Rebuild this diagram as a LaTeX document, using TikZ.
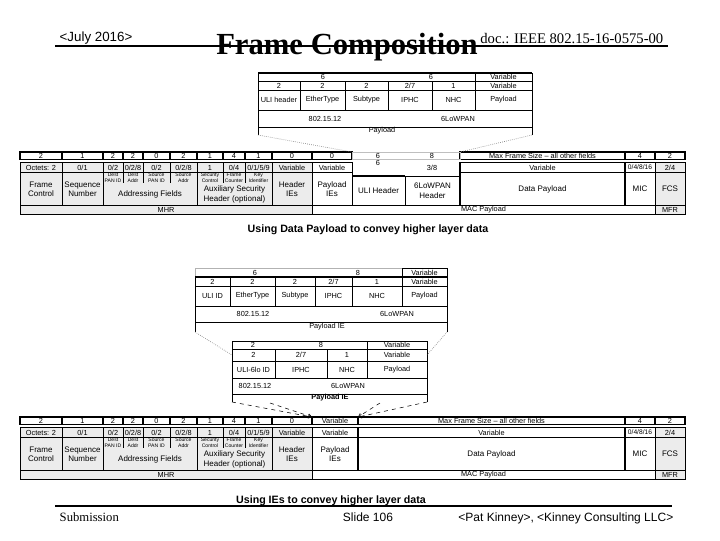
\documentclass[tikz,border=0pt]{standalone}
\usepackage{fontspec}
\setmainfont{Liberation Sans}
\newfontfamily\tnr{Liberation Serif}
\usetikzlibrary{arrows.meta,positioning,calc}

% one table cell: [style]{name}{x1}{y1}{x2}{y2}{text}, in pixels
\newcommand{\fcell}[7][]{%
  \node[cellbox,#1,minimum width={(#5-#3)*0.75pt},minimum height={(#6-#4)*0.75pt}]
    (#2) at ({(#3+#5)/2},{(#4+#6)/2}) {#7};}

\begin{document}
\begin{tikzpicture}[
  x=0.75pt, y=-0.75pt,
  cellbox/.style={
    draw, line width=0.4pt, inner sep=0pt, outer sep=0pt,
    align=center, font=\fontsize{5.5}{6.2}\selectfont
  },
  numbox/.style={line width=0.9pt},
  namebox/.style={font=\fontsize{6}{7}\selectfont},
  subtxt/.style={draw=none, font=\fontsize{3.8}{4.2}\selectfont},
  mhr/.style={fill=gray!15},
  thickbox/.style={line width=0.8pt},
  txt/.style={inner sep=0pt, font=\fontsize{5.5}{6.2}\selectfont},
  lnk/.style={densely dotted, gray, line width=0.5pt},
  ielnk/.style={dashed, line width=0.4pt, -{Straight Barb[length=2.5pt,width=3pt]}},
]
\useasboundingbox (0,0) rectangle (720,540);

%% slide header
\node[font=\fontsize{10}{12}\selectfont, anchor=base west] (date) at (55,41) {<July 2016>};
\coordinate (hl) at (55,46);
\coordinate (hr) at (668,46);
\draw[line width=1.5pt] (hl) -- (hr);
\node[font=\tnr\bfseries\fontsize{23}{26}\selectfont, anchor=base] (title) at (347,54)
  {Frame Composition};
\node[font=\tnr\fontsize{11}{13}\selectfont, anchor=base east] (doc) at (668,43)
  {doc.: IEEE 802.15-16-0575-00};

%% payload breakdown (top)
\fcell{pl6}{258}{73}{475}{81}{}
\fcell{plv}{475}{73}{532}{81}{Variable}
\draw[line width=0.9pt] (pl6.north west) -- (plv.north east);
\node[txt] (pl6a) at (323,77) {6};
\node[txt] (pl6b) at (431,77) {6};
\foreach \xa/\xb/\sz/\tx [count=\i] in {258/300/2/ULI header, 300/345/2/EtherType,
    345/388/2/Subtype, 388/432/{2/7}/IPHC, 432/475/1/NHC, 475/532/Variable/Payload} {
  \fcell{plb\i}{\xa}{81}{\xb}{90}{\sz}
  \fcell{plc\i}{\xa}{90}{\xb}{110}{\tx}
}
\fcell{pld}{258}{110}{532}{127}{}
\node[txt] (pl802) at (325,118.5) {802.15.12};
\node[txt] (pllow) at (458,118.5) {6LoWPAN};
\coordinate (pll) at (258,135);
\coordinate (plr) at (532,135);
\draw[line width=0.4pt] (pld.south west) -- (pll);
\draw[line width=0.4pt] (pld.south east) -- (plr);
\node[txt] (plcap) at (382,131) {Payload};

%% MAC frames: a = data payload, b = payload IEs
\foreach \tb/\oy/\pe/\pa/\dx in {a/152/352/0/460, b/417/358/Variable/358} {
\begin{scope}[shift={(0,\oy)}]
  \foreach \xa/\xb/\tx [count=\i] in {20/62/2, 62/103/1, 103/123/2, 123/143/2,
      143/170/0, 170/197/2, 197/223/1, 223/245/4, 245/272/1, 272/312/0} {
    \fcell[numbox]{\tb A\i}{\xa}{0}{\xb}{7.5}{\tx}
  }
  \fcell[numbox]{\tb pA}{312}{0}{\pe}{7.5}{\pa}
  \fcell[numbox]{\tb mx}{\dx}{0}{625}{7.5}{Max Frame Size – all other fields}
  \fcell[numbox]{\tb mA}{625}{0}{655}{7.5}{4}
  \fcell[numbox]{\tb fA}{655}{0}{685}{7.5}{2}

  \foreach \xa/\xb/\tx [count=\i] in {20/62/Octets: 2, 62/103/{0/1}, 103/123/{0/2},
      123/143/{0/2/8}, 143/170/{0/2}, 170/197/{0/2/8}, 197/223/1, 223/245/{0/4},
      245/272/{0/1/5/9}, 272/312/Variable} {
    \fcell[mhr]{\tb B\i}{\xa}{10.5}{\xb}{20.5}{\tx}
  }
  \fcell[namebox,mhr]{\tb fc}{20}{20.5}{62}{53.5}{Frame\\Control}
  \fcell[namebox,mhr]{\tb sn}{62}{20.5}{103}{53.5}{Sequence\\Number}
  \fcell[namebox,mhr]{\tb af}{103}{20.5}{197}{53.5}{}
  \fcell[namebox,mhr]{\tb ax}{197}{20.5}{272}{53.5}{}
  \fcell[namebox,mhr]{\tb hi}{272}{20.5}{312}{53.5}{Header\\IEs}
  \foreach \xa/\xb/\tx [count=\i] in {103/123/Dest\\PAN ID, 123/143/Dest\\Addr,
      143/170/Source\\PAN ID, 170/197/Source\\Addr, 197/223/Security\\Control,
      223/245/Frame\\Counter, 245/272/Key\\Identifier} {
    \fcell[subtxt]{\tb S\i}{\xa}{20.5}{\xb}{31}{\tx}
  }
  \foreach \i in {1,2,3,5,6} {
    \draw[line width=0.3pt] (\tb S\i.north east) -- (\tb S\i.south east);
  }
  \node[cellbox, namebox, draw=none] (\tb afn) at (150,42.5) {Addressing Fields};
  \node[cellbox, namebox, draw=none] (\tb axn) at (234.5,42.5)
    {Auxiliary Security\\Header (optional)};

  \fcell{\tb pB}{312}{10.5}{\pe}{20.5}{Variable}
  \fcell[namebox]{\tb pC}{312}{20.5}{\pe}{53.5}{Payload\\IEs}
  \fcell[thickbox]{\tb dB}{\dx}{10.5}{625}{20.5}{Variable}
  \fcell[namebox,thickbox]{\tb dC}{\dx}{20.5}{625}{53.5}{Data Payload}
  \fcell{\tb mB}{625}{10.5}{655}{20.5}{\fontsize{5}{5}\selectfont 0/4/8/16}
  \fcell[namebox]{\tb mC}{625}{20.5}{655}{53.5}{MIC}
  \fcell[mhr]{\tb fB}{655}{10.5}{685}{20.5}{2/4}
  \fcell[namebox,mhr]{\tb fC}{655}{20.5}{685}{53.5}{FCS}

  \fcell[mhr]{\tb mhr}{20}{53.5}{312}{62.5}{MHR}
  \fcell{\tb mac}{312}{53.5}{655}{62.5}{MAC Payload}
  \fcell[mhr]{\tb mfr}{655}{53.5}{685}{62.5}{MFR}
\end{scope}
}

%% ULI header and 6LoWPAN header in the data payload frame
\begin{scope}[shift={(0,152)}]
  \fcell[draw=gray!50]{aU}{352}{0}{460}{7.5}{}
  \node[txt] (aU6) at (378,3.75) {6};
  \node[txt] (aU8) at (432,3.75) {8};
  \node[txt] (aUs6) at (378,11) {6};
  \node[txt] (aUs8) at (432,16) {3/8};
  \fcell[namebox]{aUH}{352}{24}{405}{53.5}{ULI Header}
  \fcell[namebox]{aLH}{405}{24}{460}{53.5}{6LoWPAN\\Header}
  \draw[line width=0.9pt] (aUH.north west) -- (aUH.north east);
\end{scope}
\draw[lnk] (pll) -- (aU.north west);
\draw[lnk] (plr) -- (aU.north east);
\node[font=\bfseries\fontsize{8}{10}\selectfont, anchor=base] (cap1) at (368,232)
  {Using Data Payload to convey higher layer data};

%% payload IE breakdown
\fcell[draw=gray!60]{ie6}{195}{268}{402}{277}{}
\fcell{iev}{402}{268}{447}{277}{Variable}
\node[txt] (ie6a) at (255,272.5) {6};
\node[txt] (ie6b) at (358,272.5) {8};
\foreach \xa/\xb/\sz/\tx [count=\i] in {195/230/2/ULI ID, 230/275/2/EtherType,
    275/315/2/Subtype, 315/352/{2/7}/IPHC, 352/402/1/NHC, 402/447/Variable/Payload} {
  \fcell{ieb\i}{\xa}{277}{\xb}{286}{\sz}
  \fcell{iec\i}{\xa}{286}{\xb}{306}{\tx}
}
\draw[line width=0.8pt] (ieb1.north west) -- (ieb6.north east);
\fcell{ied}{195}{306}{447}{322}{}
\node[txt] (ie802) at (253,314) {802.15.12};
\node[txt] (ielow) at (397,314) {6LoWPAN};
\coordinate (iel) at (195,332);
\coordinate (ier) at (447,332);
\draw[line width=0.4pt] (ied.south west) -- (iel);
\draw[line width=0.4pt] (ied.south east) -- (ier);
\node[txt] (iecap) at (327,327) {Payload IE};

%% ULI-6lo payload IE
\fcell{ui28}{232}{341}{367}{349}{}
\fcell{uiv}{367}{341}{427}{349}{Variable}
\node[txt] (ui2) at (253,345) {2};
\node[txt] (ui8) at (321,345) {8};
\foreach \xa/\xb/\sz/\tx [count=\i] in {232/275/2/ULI-6lo ID, 275/327/{2/7}/IPHC,
    327/367/1/NHC, 367/427/Variable/Payload} {
  \fcell{uib\i}{\xa}{349}{\xb}{361}{\sz}
  \fcell{uic\i}{\xa}{361}{\xb}{378}{\tx}
}
\fcell{uid}{232}{378}{427}{394}{}
\node[txt] (ui802) at (255,386) {802.15.12};
\node[txt] (uilow) at (348,386) {6LoWPAN};
\coordinate (uil) at (232,402);
\coordinate (uir) at (427,402);
\coordinate (uim1) at (270,403);
\coordinate (uim2) at (380,403);
\draw[line width=0.4pt] (uid.south west) -- (uil);
\draw[line width=0.4pt] (uid.south east) -- (uir);
\node[txt, font=\bfseries\fontsize{5.5}{6.2}\selectfont] (uicap) at (330,398) {Payload IE};

%% expansion links
\draw[lnk] (iel) -- (uib1.west);
\draw[lnk] (ier) -- (uib4.east);
\draw[ielnk] (uil) -- (bpA.north west);
\draw[ielnk] (uim1) -- (bpA.north west);
\draw[ielnk] (uim2) -- (bpA.north east);
\draw[ielnk] (uir) -- (bpA.north east);

%% slide footer
\node[font=\bfseries\fontsize{8}{10}\selectfont, anchor=base] (cap2) at (331,503)
  {Using IEs to convey higher layer data};
\coordinate (fl) at (55,506);
\coordinate (fr) at (672,506);
\draw[line width=1.5pt] (fl) -- (fr);
\node[font=\tnr\fontsize{9.5}{11}\selectfont, anchor=base west] (sub) at (55,521) {Submission};
\node[font=\fontsize{9}{11}\selectfont, anchor=base] (slide) at (368,521) {Slide 106};
\node[font=\fontsize{9}{11}\selectfont, anchor=base east] (auth) at (678,521)
  {<Pat Kinney>, <Kinney Consulting LLC>};
\end{tikzpicture}
\end{document}
